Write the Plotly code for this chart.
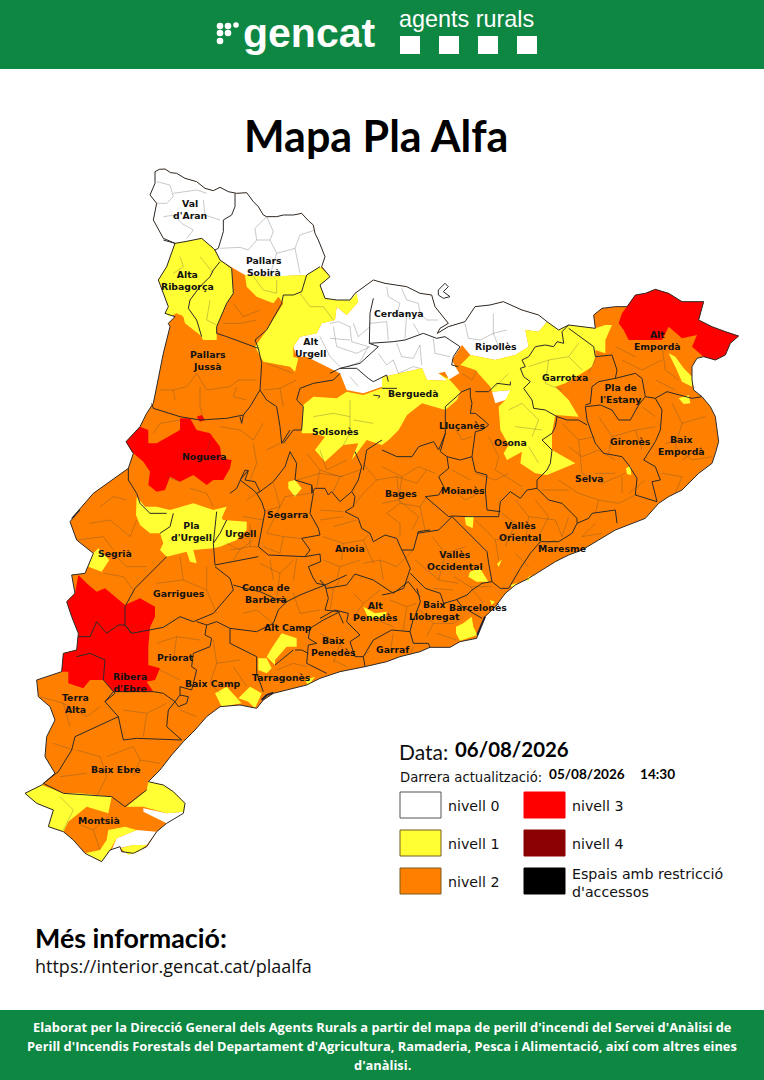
import plotly.graph_objects as go

# ---------- text and categories ----------
TITLE = "Mapa Pla Alfa"
DATE_LABEL = "Data:"
DATE_VALUE = "06/08/2026"
UPDATE_LABEL = "Darrera actualització:"
UPDATE_DATE = "05/08/2026"
UPDATE_TIME = "14:30"
MORE_TITLE = "Més informació:"
MORE_URL = "https://interior.gencat.cat/plaalfa"
FOOTER = ["Elaborat per la Direcció General dels Agents Rurals a partir del mapa de perill d'incendi del Servei d'Anàlisi de",
          "Perill d'Incendis Forestals del Departament d'Agricultura, Ramaderia, Pesca i Alimentació, així com altres eines",
          "d'anàlisi."]
LEVEL_NAMES = ["nivell 0", "nivell 1", "nivell 2", "nivell 3", "nivell 4", "Espais amb restricció<br>d'accessos"]
LEVEL_COLORS = ["#FFFFFF", "#FFFF33", "#FF8000", "#FF0000", "#8B0000", "#000000"]

# map data are traced on sheets of the picture
def N(p): return [(x / 3, 160 + y / 3) for x, y in p]
def E(p): return [(382 + x / 3, 260 + y / 3) for x, y in p]
def S(p): return [(x / 3, 510 + y / 3) for x, y in p]
def A(p): return [(320 + x / 3, 560 + y / 3) for x, y in p]
def B(p): return [(330 + x / 3, 270 + y / 3) for x, y in p]
def C(p): return [(230 + x / 3, 450 + y / 3) for x, y in p]

# ---------- territory ----------
NORTH_EDGE = B([(75,70),(130,30),(165,40),(230,50),(270,70),(305,75),(315,110),(335,135),(355,160),(330,175),(322,190),(355,170),(405,155),(435,110),(480,105),(520,95)])
OUTLINE = N([(465,35),(478,28),(495,27),(512,38),(530,40),(555,55),(590,65),(615,85),(640,92),(660,82),(685,95),(710,100),(740,98),(760,125),(775,140),(790,165),(800,170),(830,170),(850,165),(880,165),(905,160),(925,182),(940,195),(945,220),(955,240),(975,290),(965,320),(990,350),(960,375),(975,415),(1010,420),(1050,420),(1065,400)]) + NORTH_EDGE \
 + E([(420,150),(470,165),(495,185),(530,210),(560,195),(600,200),(640,205),(635,165),(660,145),(700,140),(735,140),(760,105),(790,100),(820,88),(860,100),(900,125),(965,125),(950,180),(990,200),(1030,215),(1070,228),(1045,250),(1030,285),(1000,300),(965,290),(945,295),(930,320),(930,360),(935,390),(960,410),(985,440),(1000,470),(1005,510),(1010,545),(1000,580),(990,610),(950,640),(925,665),(900,690),(860,710),(830,730),(790,775),(750,790),(700,810),(650,840),(600,870),(560,885),(520,905),(480,930),(440,955),(400,975),(370,1000),(340,1040)]) \
 + A([(495,170),(480,205),(470,235),(420,245),(390,262),(330,262),(300,275),(240,290),(200,305),(135,320),(60,335),(0,355)]) \
 + S([(920,525),(820,550),(790,570),(770,595),(720,585),(660,590),(620,620),(585,660),(550,695),(515,735),(480,780),(445,815),(490,825),(520,845),(555,880),(550,910),(500,940),(470,965),(440,1010),(400,1030),(365,1025),(360,1010),(330,1020),(305,1055),(255,1030),(220,990),(190,965),(145,950),(160,900),(110,880),(75,850),(125,825),(165,790),(135,740),(140,680),(165,630),(150,590),(115,560),(110,510),(185,485),(190,430),(230,420),(235,370),(215,320),(200,275),(225,250),(215,195),(255,190),(280,130),(230,90),(210,35),(240,0)]) \
 + N([(215,1075),(280,1000),(365,940),(385,925),(400,880),(378,845),(420,800),(440,760),(460,730),(475,650),(490,580),(510,500),(505,490),(525,470),(495,460),(505,440),(485,390),(475,360),(500,320),(525,250),(490,235),(460,180),(470,130),(450,105),(465,70),(465,35)])

# ---------- danger levels (patches over the level 2 territory) ----------
LLIVIA = B([(325,60),(345,40),(355,50),(340,65),(360,80),(340,85),(325,75)])
WHITE_PATCHES = [
    N([(525,250),(490,235),(460,180),(470,130),(450,105),(465,70),(465,35),(478,28),(495,27),(512,38),(530,40),(555,55),(590,65),(615,85),(640,92),(660,82),(685,95),(710,100),(740,98),(760,125),(775,140),(790,165),(800,170),(830,170),(850,165),(880,165),(905,160),(925,182),(940,195),(945,220),(955,240),(975,290),(965,320),(920,345),(800,350),(735,345),(700,325),(660,300),(645,270),(605,235),(555,245)]),
    N([(975,415),(1010,420),(1050,420),(1065,400)]) + NORTH_EDGE + E([(420,150),(470,165),(495,185),(470,215),(430,210),(440,260),(400,285),(340,300),(265,285),(240,255),(210,300),(220,320),(232,340),(195,362),(135,360),(120,325),(50,340),(0,352)]) + N([(1146,680),(1090,700),(1040,690),(1020,640),(920,590),(890,590),(880,560),(900,530),(950,520),(965,490),(1005,480),(1010,440),(1040,465),(1075,425)]),
    E([(330,395),(385,390),(390,405),(370,420),(340,430)]),
    LLIVIA,
    S([(430,895),(500,910),(552,905),(540,925),(500,940),(430,905)]),
    S([(350,985),(410,960),(470,965),(440,1005),(400,1005),(362,1015),(335,1020)]),
]
YELLOW_PATCHES = [
    N([(525,250),(555,245),(605,235),(640,265),(660,300),(695,325),(700,400),(680,430),(650,500),(650,540),(610,540),(600,525),(555,490),(550,470),(530,460),(510,470),(495,460),(505,440),(485,390),(475,360),(500,320)]),
    N([(735,345),(800,350),(920,345),(960,320),(990,350),(960,375),(975,415),(1010,420),(1050,420),(1070,400),(1075,425),(1040,465),(1010,440),(1005,480),(965,490),(950,520),(900,530),(880,560),(880,590),(895,595),(885,635),(870,620),(790,605),(765,560),(800,510),(850,430),(835,410),(820,430),(770,410),(740,380)]),
    N([(910,735),(940,710),(1010,715),(1040,695),(1090,705),(1146,685)]) + E([(0,352),(50,340),(120,325),(135,360),(195,362),(170,340),(190,345),(235,395),(225,420),(190,450),(120,430),(75,465),(50,510),(20,540),(0,555)]) + N([(1100,840),(1055,900),(1075,850),(1030,855),(975,905),(945,870),(975,830),(940,820),(905,820)]),
    E([(265,285),(340,300),(400,285),(440,260),(430,210),(470,215),(495,185),(530,210),(560,195),(600,200),(640,205),(670,195),(690,195),(670,240),(670,280),(640,270),(640,290),(630,320),(600,340),(550,370),(520,380),(560,420),(590,470),(520,465),(510,520),(510,570),(580,610),(495,645),(460,640),(415,610),(420,575),(375,600),(365,580),(380,555),(355,510),(350,440),(370,420),(385,390),(330,395),(325,380),(280,330),(235,315)]),
    E([(860,280),(880,290),(905,325),(930,350),(930,380),(900,365),(880,320)]),
    E([(890,415),(920,405),(925,430),(905,432)]),
    E([(732,625),(745,618),(748,645),(735,642)]),
    E([(248,772),(275,768),(272,805),(252,795)]),
    A([(450,35),(480,25),(505,65),(470,65),(445,50)]),
    E([(345,912),(360,898),(350,920)]),
    E([(430,960),(447,945),(440,962)]),
    E([(385,975),(408,968),(390,982)]),
    A([(510,120),(525,125),(515,135)]),
    A([(408,200),(430,190),(455,170),(460,200),(472,225),(420,242),(408,220)]),
    A([(130,140),(165,160),(200,155),(195,175),(145,175)]),
    N([(865,965),(885,960),(905,985),(885,1010),(865,985)]),
    N([(410,1010),(435,1040),(470,1040),(510,1050),(580,1030),(640,1050),(680,1040),(665,1075)]) + S([(650,5),(670,30),(740,35),(740,60),(710,90),(660,110),(640,115),(580,120),(590,160),(570,155),(560,125),(500,140),(480,120),(490,100),(480,70),(450,70),(420,45),(408,15)]),
    S([(295,115),(328,150),(305,185),(265,170),(280,130)]),
    S([(845,370),(890,385),(890,410),(860,410),(825,450),(825,465),(800,440),(815,415)]),
    S([(775,445),(800,445),(815,475),(800,490),(775,480)]),
    S([(645,550),(680,530),(725,580),(665,590)]),
    S([(715,565),(750,530),(785,550),(765,595),(745,575)]),
    S([(915,510),(945,500),(925,527)]),
    S([(75,850),(125,825),(190,850),(240,850),(335,860),(325,910),(260,890),(205,935),(190,965),(145,950),(160,900),(110,880)]),
    S([(380,890),(440,840),(445,815),(490,825),(520,845),(555,880),(552,905),(500,910),(430,890)]),
    S([(325,960),(375,950),(410,960),(350,985),(330,1020),(305,1055),(255,1030),(300,1020),(320,990)]),
    S([(362,1015),(400,1005),(440,1005),(415,1025),(385,1035)]),
]
RED_PATCHES = [
    N([(378,845),(420,800),(445,810),(445,850),(470,850),(540,810),(540,775),(570,775),(590,810),(630,820),(660,860),(665,895),(695,900),(690,925),(670,960),(640,960),(620,975),(580,945),(540,965),(510,950),(495,990),(470,995),(445,975),(450,935),(430,905),(395,875)]),
    N([(590,770),(605,765),(615,780),(600,785)]),
    S([(235,195),(260,220),(290,245),(315,235),(375,285),(420,265),(465,290),(465,320),(450,352),(445,410),(445,465),(480,475),(465,510),(440,515),(460,545),(340,545),(310,510),(270,510),(250,535),(205,520),(205,485),(185,485),(190,430),(230,420),(235,370),(215,320),(200,275),(225,250)]),
    E([(720,160),(760,105),(790,100),(820,88),(860,100),(900,125),(965,125),(950,180),(990,200),(1030,215),(1070,228),(1045,250),(1030,285),(1000,300),(965,290),(930,260),(945,225),(900,235),(860,200),(840,240),(800,240),(740,240),(725,210),(710,190)]),
]
ORANGE_PATCHES = [
    N([(520,465),(545,465),(550,480),(530,485)]),
    N([(680,935),(705,925),(710,945),(690,960)]),
    B([(325,310),(345,305),(355,325),(345,322)]),
]

# ---------- county borders ----------
COUNTY_LINES = [
    N([(705,100),(705,140),(695,165),(670,180),(670,215),(655,265),(645,270)]),
    N([(490,240),(525,250),(555,245),(605,235),(640,265),(645,270),(660,300),(695,325),(700,400),(680,430),(650,500),(650,520),(680,530),(775,565),(785,610),(780,690),(750,740),(730,765),(680,775),(600,780),(540,770),(460,745),(455,730)]),
    N([(660,305),(640,330),(630,350),(600,380),(570,420),(565,445),(590,480),(605,530)]),
    N([(850,405),(880,405),(905,395),(920,345),(960,320)]),
    N([(850,405),(845,430),(800,510),(765,540),(775,565)]),
    N([(720,770),(725,790),(730,765)]),
    N([(1020,640),(1000,660),(940,670),(900,685),(890,720),(910,740),(905,810),(880,810),(850,850)]),
    N([(780,690),(800,720),(830,740),(840,800),(845,850),(870,810)]),
    B([(130,85),(120,130),(118,220),(190,215),(225,210),(280,190),(320,205),(345,200),(390,230),(370,260),(365,285),(385,290)]),
    B([(118,220),(145,230),(90,280),(50,290),(30,295),(0,310)]),
    B([(30,295),(80,295),(115,325),(130,335),(170,315),(175,335)]),
    E([(0,385),(45,385)]),
    B([(130,375),(150,378),(145,385)]),
    E([(540,215),(545,250),(525,245),(515,260),(490,255),(460,260),(440,290),(420,300),(430,320),(415,325),(425,350),(445,365),(425,385),(450,420),(455,445),(490,450),(525,470),(520,500),(510,520),(480,540),(510,570),(505,610),(495,630),(465,660),(465,685),(435,690),(415,715),(385,695),(355,725),(350,770),(260,770)]),
    E([(465,685),(500,720),(540,730),(585,775),(585,790),(620,775),(630,760),(700,750),(705,790)]),
    E([(585,790),(570,820),(530,845),(475,845),(445,880),(415,925),(380,985)]),
    E([(310,690),(315,750),(355,755)]),
    E([(260,770),(210,768),(200,770),(130,710),(170,705),(185,680),(170,650),(200,625),(195,590),(235,600),(270,590),(280,635),(315,645),(310,690)]),
    E([(195,590),(175,575),(190,520),(190,440),(240,395),(265,385),(265,410),(270,430),(265,460),(280,460),(305,480),(320,495),(300,510),(280,515),(270,590)]),
    E([(280,395),(320,395),(345,370),(385,375),(385,365)]),
    E([(0,570),(45,590),(90,590),(110,560),(155,545),(170,570),(190,520)]),
    E([(105,820),(170,810),(210,770),(255,815),(290,850),(315,875),(320,910),(330,965),(355,985),(380,985)]),
    E([(60,870),(85,925),(65,985),(25,1000),(0,1005)]),
    E([(85,940),(130,985),(175,1000),(185,1030),(220,1020),(255,1005),(270,990),(300,970),(330,965)]),
    E([(105,985),(115,1025),(95,1080)]),
    A([(280,175),(270,215),(280,250),(325,250),(330,262)]),
    A([(0,175),(45,150),(85,160),(80,185),(120,225),(90,245),(105,290),(130,290),(135,320)]),
    A([(0,60),(20,85),(80,75),(105,42),(160,60),(205,90),(220,100),(265,65),(300,110)]),
    A([(130,290),(160,240),(215,210),(270,215)]),
    E([(225,1020),(240,1040),(300,1075)]),
    E([(610,435),(625,430),(630,380),(650,365),(700,355),(720,350),(760,340),(780,355),(790,410),(770,435),(745,480),(710,480),(690,450),(655,435),(610,440),(615,480),(640,550),(665,580),(720,590),(740,615),(765,655),(760,705),(825,725)]),
    E([(790,410),(820,415),(855,395),(890,405),(930,415),(960,410)]),
    E([(820,415),(840,450),(835,510),(820,545),(785,600),(820,620),(835,660),(810,665),(825,725)]),
    E([(525,470),(555,480),(590,480),(615,495)]),
    E([(540,215),(560,195)]),
    E([(560,205),(600,235),(635,260),(640,290),(690,285),(705,330),(700,355)]),
    N([(385,925),(385,960),(410,1000),(420,1030),(450,1060),(500,1060)]),
    C([(0,130),(20,115),(45,60),(55,62),(45,90),(75,95),(90,125),(130,95),(165,50),(180,5)]),
    C([(180,5),(200,40),(195,90),(225,100),(245,105),(245,130),(255,115),(285,115),(295,135),(305,125),(330,155),(365,125),(375,140),(370,170),(345,185),(385,205),(395,235),(420,250),(430,275),(465,255),(500,265),(515,300),(550,300),(565,245),(600,240)]),
    C([(365,125),(385,90),(395,50),(375,5)]),
    N([(1090,930),(1100,870),(1146,840)]),
    C([(90,125),(80,130),(95,155),(105,185),(85,290),(115,315),(225,320),(270,312),(272,335),(235,350),(250,385)]),
    C([(245,105),(250,130),(240,190),(265,235),(270,255),(215,265),(240,300),(225,320)]),
    N([(745,930),(720,960),(760,990),(770,1000)]),
    S([(650,5),(640,100),(660,70),(680,30)]),
    S([(645,165),(640,100)]),
    S([(775,140),(645,165)]),
    S([(480,70),(510,50),(520,10)]),
    S([(500,140),(470,170),(430,210),(405,235),(375,290),(375,345),(395,370),(490,352),(540,320),(580,335),(640,310),(700,240),(690,205),(645,170)]),
    S([(700,225),(735,235),(780,245),(835,270),(860,275),(835,300),(820,340),(770,365),(690,355),(650,335),(620,345),(590,335)]),
    S([(860,275),(900,255),(975,225),(985,265),(975,300),(1015,305),(1030,340)]),
    S([(950,220),(975,225),(1040,195)]),
    S([(940,204),(950,220)]),
    S([(1020,305),(970,330),(930,355),(925,385),(950,400),(925,405),(920,460),(980,490)]),
    S([(885,420),(905,420),(925,430)]),
    S([(825,465),(880,420)]),
    S([(770,440),(770,490),(790,545)]),
    S([(690,355),(690,400),(770,440)]),
    S([(620,345),(615,375),(635,385),(630,410),(580,430),(575,470),(590,480),(575,540),(540,530),(540,555),(525,575),(490,550),(460,545),(340,545),(315,575)]),
    S([(525,575),(505,600),(500,650),(545,690)]),
    S([(315,575),(355,620),(370,690),(410,685),(545,690)]),
    S([(310,510),(315,450),(270,430),(230,440)]),
    S([(315,575),(345,550),(310,510)]),
    S([(355,620),(225,680),(215,720),(175,785),(130,820),(190,850),(335,860),(375,890),(440,840)]),
    S([(235,380),(270,380),(290,335),(320,370),(355,345),(375,345),(395,370)]),
    S([(540,555),(565,560),(560,580),(535,590),(525,575)]),
]
HARBOUR_LINES = [
    S([(785,570),(800,555),(820,548)]),
    A([(495,170),(485,195),(472,225)]),
]

# ---------- municipal boundaries ----------
MUNICIPAL_LINES = [
    N([(470,65),(510,75),(520,110),(500,130),(470,130)]),N([(520,100),(590,90),(620,100)]),N([(490,170),(525,165),(545,190),(580,210),(560,235)]),N([(610,120),(615,165),(660,180)]),
    N([(660,265),(720,262),(745,270),(770,240),(765,205),(800,170)]),N([(800,170),(820,215),(810,240),(830,280),(885,265),(900,225),(945,210)]),N([(770,240),(810,240)]),N([(885,265),(900,340)]),N([(830,280),(810,345)]),
    N([(540,290),(550,320),(520,340)]),N([(600,290),(640,340)]),N([(630,420),(620,480),(650,495)]),N([(760,350),(790,390),(830,400),(830,360)]),N([(900,400),(930,440),(970,440),(1000,480)]),
    N([(700,430),(730,470),(780,450)]),N([(670,490),(720,490),(770,480)]),N([(520,690),(560,680),(590,640),(620,690),(690,680),(715,660),(770,660)]),N([(600,680),(600,740),(610,775)]),N([(710,680),(700,710),(740,720)]),N([(480,690),(520,690),(525,720)]),
    N([(800,610),(840,625),(880,640)]),N([(790,690),(840,685),(890,660)]),N([(840,685),(850,740)]),N([(1000,500),(1010,560),(1070,580),(1110,560)]),N([(960,530),(990,590),(1020,620)]),N([(1060,490),(1075,530),(1110,500)]),
    N([(1050,720),(1050,820),(1030,855)]),N([(940,770),(1000,760),(1050,770)]),N([(1060,780),(1120,790)]),N([(460,820),(480,790),(540,780)]),N([(660,800),(720,810),(760,840),(790,790)]),N([(760,850),(770,910),(750,960)]),N([(800,870),(840,850)]),N([(620,880),(630,840)]),N([(500,950),(540,965)]),N([(570,985),(620,1000),(640,1040)]),N([(300,1040),(340,1010),(380,1020)]),N([(890,960),(960,940),(1030,950)]),N([(960,870),(980,930),(1040,900)]),
    B([(170,50),(175,80),(210,100),(200,135),(235,130),(240,150)]),B([(215,55),(230,90),(265,100),(270,130),(290,150),(325,150)]),B([(230,130),(225,205)]),B([(120,160),(170,155),(175,210)]),B([(250,160),(270,195)]),
    B([(0,160),(25,155),(60,170),(65,215),(115,230),(90,275),(55,290)]),B([(0,205),(60,210)]),B([(145,250),(170,285),(190,270),(205,310),(250,290),(270,295)]),B([(270,225),(275,285)]),B([(310,205),(315,250),(360,260)]),B([(200,220),(215,260),(250,265),(270,225)]),
    B([(405,160),(415,205),(450,210),(490,190),(530,180)]),B([(490,130),(490,190),(510,240)]),B([(60,320),(85,350)]),
    E([(240,340),(270,360),(285,330)]),E([(440,320),(500,300),(560,290),(600,330)]),E([(500,300),(490,370),(540,390)]),E([(560,290),(590,250)]),E([(380,450),(420,430),(470,480),(450,530)]),E([(400,500),(480,510)]),E([(440,560),(470,610)]),E([(380,340),(340,380)]),
    E([(650,280),(620,340)]),E([(720,300),(780,330),(840,300)]),E([(700,260),(760,290)]),E([(840,260),(850,330),(890,360)]),E([(820,360),(880,390)]),E([(650,470),(690,530),(760,510),(820,500)]),E([(690,530),(680,580)]),E([(760,510),(780,570)]),E([(870,430),(900,490),(970,470)]),E([(900,490),(880,560),(930,600),(990,590)]),E([(840,640),(900,650),(880,700)]),
    E([(540,490),(590,540),(640,530)]),E([(590,540),(600,640),(660,670),(730,640)]),E([(530,660),(590,700),(650,720),(710,730),(770,700)]),E([(650,720),(640,760)]),E([(480,690),(560,690)]),E([(720,650),(720,700)]),
    E([(0,620),(60,650),(110,620),(160,640)]),E([(60,650),(50,720),(0,730)]),E([(50,720),(110,770),(90,810)]),E([(200,680),(250,720),(310,690)]),E([(210,630),(265,660)]),E([(210,490),(240,540),(270,530)]),E([(320,530),(350,590),(340,630)]),E([(340,630),(420,680)]),E([(280,640),(340,660),(380,640)]),E([(280,780),(340,840),(400,820)]),E([(400,720),(440,770),(520,780)]),E([(440,770),(430,850)]),E([(340,840),(350,900)]),E([(520,780),(540,830)]),E([(150,830),(190,880),(250,860)]),E([(190,880),(170,960),(230,970)]),E([(100,900),(170,960)]),E([(470,860),(520,840)]),
    E([(560,560),(600,590),(650,570),(700,600)]),E([(640,640),(700,640)]),E([(790,660),(740,700)]),E([(900,600),(960,560)]),E([(850,550),(900,540)]),E([(780,440),(820,470)]),E([(460,720),(500,770),(470,830)]),E([(560,770),(540,830)]),E([(360,760),(400,790),(370,860)]),E([(400,880),(440,920)]),E([(640,790),(600,830),(660,820)]),
    S([(270,40),(330,30),(390,80),(410,30)]),S([(230,90),(310,80),(340,120)]),S([(340,130),(380,170),(440,170)]),S([(310,190),(370,200),(400,240)]),S([(540,140),(550,210),(620,240),(650,310)]),S([(470,220),(550,210)]),S([(620,170),(620,240)]),S([(680,100),(720,120),(760,90)]),S([(700,150),(720,120)]),S([(780,160),(840,190),(880,150)]),S([(840,190),(830,260)]),S([(730,310),(770,300),(820,340)]),S([(880,250),(900,310),(960,300)]),
    S([(470,400),(530,380),(600,390)]),S([(530,380),(520,450)]),S([(480,480),(540,510)]),S([(640,390),(650,460),(720,450)]),S([(650,460),(630,520),(660,550)]),S([(700,470),(740,530)]),S([(830,480),(880,460),(920,470)]),S([(820,510),(880,510)]),S([(960,370),(1020,400),(1040,440)]),S([(1000,450),(1040,470)]),
    S([(120,560),(190,580),(260,620),(300,590)]),S([(190,580),(210,650)]),S([(160,700),(220,720)]),S([(370,600),(440,610),(500,580)]),S([(440,610),(430,680)]),S([(540,600),(590,620)]),S([(230,720),(300,740),(320,800),(290,860)]),S([(320,740),(400,710),(420,750),(480,760)]),S([(400,800),(420,750)]),S([(180,800),(260,790)]),S([(180,860),(220,900),(190,960)]),S([(240,945),(280,960),(325,920)]),S([(280,960),(300,1020)]),
    C([(100,185),(150,170),(165,140),(200,135),(240,130)]),C([(130,100),(150,170),(110,250),(160,260),(215,265)]),C([(160,260),(150,310)]),C([(270,180),(340,185)]),C([(270,210),(340,200)]),C([(310,230),(380,210)]),C([(280,260),(340,280),(400,270),(420,250)]),C([(340,280),(335,330)]),C([(400,270),(430,340)]),C([(400,40),(440,90),(500,80),(560,100),(590,60)]),C([(440,90),(400,130),(370,170)]),C([(500,80),(510,160),(470,190),(510,220),(510,260)]),C([(510,160),(570,170),(590,140)]),C([(570,170),(585,240)]),C([(230,10),(270,60),(330,80),(390,60)]),C([(270,60),(260,110)]),C([(330,80),(310,125)]),C([(100,290),(150,310)]),C([(0,300),(60,290),(85,290)]),C([(50,150),(80,130)]),C([(40,200),(100,210)]),C([(60,220),(60,290)]),C([(120,330),(130,390)]),C([(200,325),(190,390)]),C([(280,330),(330,350),(390,330)]),C([(330,350),(320,390)]),C([(400,340),(450,330),(500,350),(550,300)]),C([(450,330),(460,390)]),
    A([(0,60),(40,90),(60,60)]),A([(40,90),(30,150)]),A([(100,100),(130,130),(180,90)]),A([(130,130),(95,180)]),A([(210,120),(260,140),(290,130)]),A([(260,140),(250,210)]),A([(170,180),(220,200)]),A([(300,150),(340,190),(400,190)]),A([(340,190),(320,230)]),A([(340,85),(400,90)]),A([(450,80),(490,130)]),A([(400,50),(450,80),(515,80)]),A([(150,270),(130,290)]),A([(220,220),(210,280)]),A([(280,260),(270,285)]),A([(20,240),(60,250),(40,310)]),A([(350,220),(410,240)]),A([(430,170),(400,190)]),
]

# ---------- county labels ----------
COUNTY_NAMES = ["Val<br>d'Aran","Pallars<br>Sobirà","Alta<br>Ribagorça","Cerdanya","Alt<br>Urgell","Pallars<br>Jussà","Ripollès","Garrotxa","Alt<br>Empordà","Pla de<br>l'Estany","Berguedà","Solsonès","Lluçanès","Osona","Gironès","Baix<br>Empordà","Noguera","Selva","Bages","Moianès","Segarra","Pla<br>d'Urgell","Urgell","Vallès<br>Oriental","Segrià","Anoia","Vallès<br>Occidental","Maresme","Garrigues","Conca de<br>Barberà","Alt<br>Penedès","Baix<br>Llobregat","Barcelonès","Alt Camp","Baix<br>Penedès","Garraf","Priorat","Tarragonès","Baix Camp","Ribera<br>d'Ebre","Terra<br>Alta","Baix Ebre","Montsià"]
COUNTY_X = [190,264,187,399,310,208,496,565,657,620,413,335,462,510,630,681,204,589,401,463,287,191,240,520,115,350,455,562,179,266,375,434,478,288,333,393,175,281,213,130,75,116,99]
COUNTY_Y = [209,266,280,313,347,360,346,377,340,393,393,431,425,442,441,445,456,478,493,490,514,531,533,531,553,548,560,548,593,593,611,610,607,627,646,649,657,677,683,682,703,769,820]

# ---------- figure ----------
GREEN = "#0E8743"
fig = go.Figure()

def patches(polys, color):
    xs, ys = [], []
    for p in polys:
        xs += [q[0] for q in p] + [p[0][0], None]
        ys += [q[1] for q in p] + [p[0][1], None]
    fig.add_trace(go.Scatter(x=xs, y=ys, mode="lines", fill="toself", fillcolor=color,
                             line=dict(width=0), hoverinfo="skip", showlegend=False))

def lines(polys, color, width):
    xs, ys = [], []
    for p in polys:
        xs += [q[0] for q in p] + [None]
        ys += [q[1] for q in p] + [None]
    fig.add_trace(go.Scatter(x=xs, y=ys, mode="lines", line=dict(color=color, width=width, shape="linear"),
                             hoverinfo="skip", showlegend=False))

patches([OUTLINE], LEVEL_COLORS[2])
patches(WHITE_PATCHES, LEVEL_COLORS[0])
patches(YELLOW_PATCHES, LEVEL_COLORS[1])
patches(ORANGE_PATCHES, LEVEL_COLORS[2])
patches(RED_PATCHES, LEVEL_COLORS[3])
lines(MUNICIPAL_LINES, "rgba(70,70,70,0.42)", 0.7)
lines(COUNTY_LINES, "#2e2a28", 1.0)
lines([OUTLINE + OUTLINE[:1]], "#2e2a28", 1.0)
lines([LLIVIA + LLIVIA[:1]], "#2e2a28", 1.0)
lines(HARBOUR_LINES, "#223", 2.0)

shapes = []
annos = []
def rect(x0, y0, x1, y1, fill, line=None, w=0):
    shapes.append(dict(type="rect", xref="x", yref="y", x0=x0, y0=y0, x1=x1, y1=y1, fillcolor=fill,
                       line=dict(color=line or fill, width=w), layer="below"))
def text(x, y, t, size, color="#000", fam="Lato", bold=False, anchor="left"):
    annos.append(dict(xref="x", yref="y", x=x, y=y, text=f"<b>{t}</b>" if bold else t, showarrow=False,
                      xanchor=anchor, yanchor="middle", align=anchor, font=dict(size=size, color=color, family=fam)))

# header
rect(0, 0, 764, 69, GREEN)
rect(0, 1010, 764, 1080, GREEN)
text(241, 33, "gencat", 41, "#FFFFFF", "Liberation Sans", True)
text(397, 19, "agents rurals", 23.4, "#FFFFFF", "Liberation Sans")
for sx in (400, 439, 478, 517):
    rect(sx, 36, sx + 20, 54, "#FFFFFF")
for dx, dy, r in [(220, 26, 3.3), (228, 26, 3.3), (236, 25, 2.8), (220, 33, 3.3), (228, 33, 3.3), (220, 41, 3.3)]:
    shapes.append(dict(type="circle", xref="x", yref="y", x0=dx - r, y0=dy - r, x1=dx + r, y1=dy + r,
                       fillcolor="#FFFFFF", line=dict(width=0)))

# titles
text(376, 135, TITLE, 43, "#000", "Lato", True, "center")
text(397, 751, DATE_LABEL, 21, "#111", "Lato")
text(453, 749, DATE_VALUE, 20.4, "#000", "Lato", True)
text(398, 777, UPDATE_LABEL, 13.2, "#111", "DejaVu Sans")
text(547, 774, UPDATE_DATE, 13.6, "#000", "Lato", True)
text(638, 774, UPDATE_TIME, 13.6, "#000", "Lato", True)

# legend
SW_COL = [400, 524]
SW_ROW = [792, 830, 868]
for i, name in enumerate(LEVEL_NAMES):
    c, r = i // 3, i % 3
    x, y = SW_COL[c], SW_ROW[r]
    rect(x, y, x + 41, y + 26, LEVEL_COLORS[i], "#555555" if i == 0 else "#7a5a20" if i in (1, 2) else LEVEL_COLORS[i], 1)
    text(x + 46, y + (15 if i == 5 else 14), name, 14.2, "#111", "DejaVu Sans")

# more info
text(33, 938, MORE_TITLE, 26.8, "#000", "Lato", True)
text(33, 966, MORE_URL, 18, "#111", "Open Sans")

# footer
for i, ln in enumerate(FOOTER):
    text(382, 1027 + i * 19, ln, 12.85, "#FFFFFF", "Open Sans", True, "center")

# county labels
for nm, x, y in zip(COUNTY_NAMES, COUNTY_X, COUNTY_Y):
    text(x, y, nm, 9.3, "#111", "DejaVu Sans", True, "center")

fig.update_layout(
    width=764, height=1080, margin=dict(l=0, r=0, t=0, b=0),
    paper_bgcolor="#FFFFFF", plot_bgcolor="#FFFFFF", showlegend=False,
    shapes=shapes, annotations=annos,
    xaxis=dict(range=[0, 764], visible=False, fixedrange=True),
    yaxis=dict(range=[1080, 0], visible=False, fixedrange=True),
)
fig.write_html("out.html", config={"displayModeBar": False},
               post_script="document.body.style.margin='0';document.body.style.overflow='hidden';")
